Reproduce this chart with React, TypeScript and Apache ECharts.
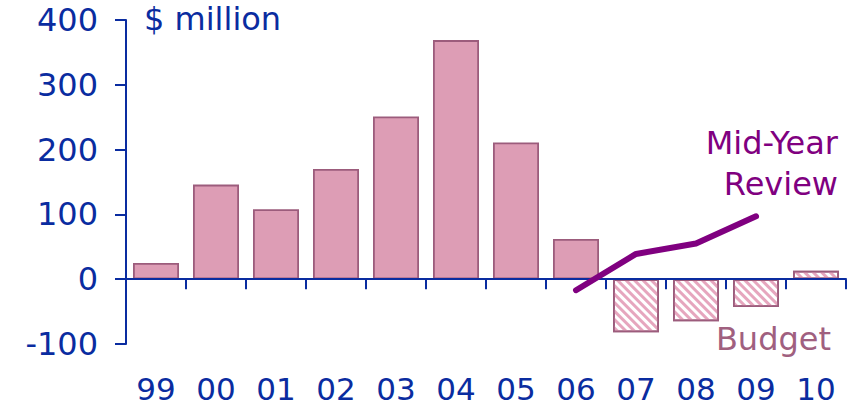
import React, { useEffect, useRef } from "react";
import * as echarts from "echarts";

const categories = ["99", "00", "01", "02", "03", "04", "05", "06", "07", "08", "09", "10"];
const actualValues = [25, 146, 108, 170, 251, 369, 211, 62, null, null, null, null];
const budgetValues = [null, null, null, null, null, null, null, null, -82, -65, -43, 13];
const midYearValues = [null, null, null, null, null, null, null, -17, 39, 55, 97, null];
const yTicks = { min: -100, max: 400, interval: 100 };

const BLUE = "#0a2ca0";
const FONT = "DejaVu Sans";
const FS = 32;

export default function App() {
  const ref = useRef<HTMLDivElement>(null);
  useEffect(() => {
    const chart = echarts.init(ref.current!, null, { renderer: "svg" });
    const barData = categories.map((c, i) => {
      if (actualValues[i] !== null) return actualValues[i];
      if (budgetValues[i] !== null)
        return {
          value: budgetValues[i],
          itemStyle: {
            color: "#ffffff",
            decal: {
              symbol: "rect",
              color: "#e6a6be",
              dashArrayX: [1, 0],
              dashArrayY: [3, 3],
              rotation: Math.PI / 4,
              symbolSize: 1,
            },
          },
        };
      return null;
    });
    chart.setOption({
      animation: false,
      grid: { left: 126, right: 13, top: 20, bottom: 64, containLabel: false },
      xAxis: [
        {
          type: "category",
          data: categories,
          position: "bottom",
          axisLine: { show: false, onZero: false },
          axisTick: { show: false },
          axisLabel: { color: BLUE, fontSize: 31, lineHeight: 31, fontFamily: FONT, margin: 29 },
        },
        {
          type: "category",
          data: categories,
          position: "bottom",
          z: 3,
          axisLine: { show: true, onZero: true, lineStyle: { color: BLUE, width: 2 } },
          axisTick: { show: true, length: 10, lineStyle: { color: BLUE, width: 2 } },
          axisLabel: { show: false },
        },
      ],
      yAxis: {
        type: "value",
        min: yTicks.min,
        max: yTicks.max,
        interval: yTicks.interval,
        splitLine: { show: false },
        axisLine: { show: true, lineStyle: { color: BLUE, width: 2 } },
        axisTick: { show: true, length: 11, lineStyle: { color: BLUE, width: 2 } },
        axisLabel: { color: BLUE, fontSize: FS, fontFamily: FONT, margin: 28 },
      },
      series: [
        {
          type: "bar",
          data: barData,
          barWidth: 46,
          itemStyle: { color: "#dd9db5", borderColor: "#9c5c7c", borderWidth: 1.8 },
          z: 2,
        },
        {
          type: "line",
          data: midYearValues,
          showSymbol: false,
          symbol: "none",
          connectNulls: false,
          lineStyle: { color: "#800080", width: 6, cap: "round", join: "round" },
          z: 4,
        },
      ],
      graphic: [
        {
          type: "text",
          left: 144,
          top: 3,
          style: { text: "$ million", fill: BLUE, fontSize: FS, fontFamily: FONT },
        },
        {
          type: "text",
          right: 21,
          top: 127,
          style: { text: "Mid-Year", fill: "#800080", fontSize: FS, fontFamily: FONT },
        },
        {
          type: "text",
          right: 21,
          top: 168,
          style: { text: "Review", fill: "#800080", fontSize: FS, fontFamily: FONT },
        },
        {
          type: "text",
          right: 28,
          top: 323,
          style: { text: "Budget", fill: "#a0607f", fontSize: FS, fontFamily: FONT },
        },
      ],
    });
    return () => chart.dispose();
  }, []);
  return <div ref={ref} style={{ width: 859, height: 408, position: "absolute", left: 0, top: 0 }} />;
}
